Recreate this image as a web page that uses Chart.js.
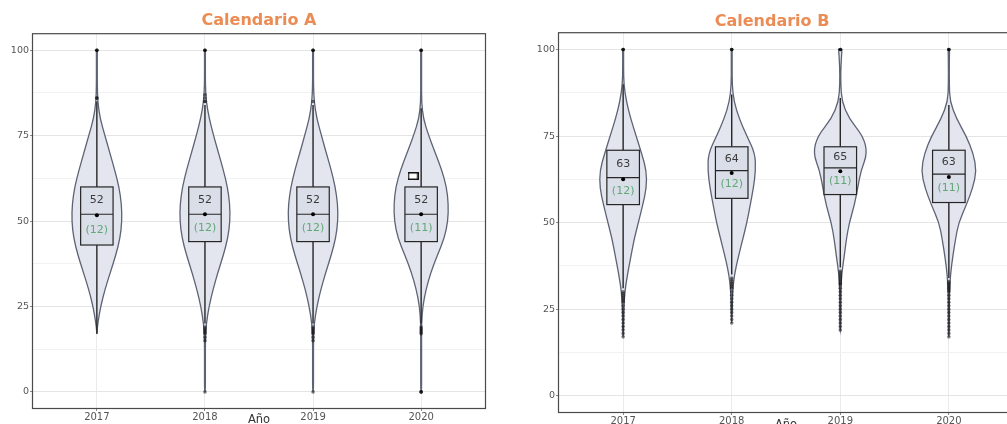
<!DOCTYPE html>
<html>
<head>
<meta charset="utf-8">
<script src="https://cdn.jsdelivr.net/npm/chart.js@4.4.1/dist/chart.umd.min.js"></script>
<style>
  body { margin: 0; background: #fff; }
  #wrap { position: relative; width: 1007px; height: 424px; overflow: hidden; }
  canvas { position: absolute; top: 0; }
</style>
</head>
<body>
<div id="wrap">
  <canvas id="calendar-a" width="500" height="424" style="left:0"></canvas>
  <canvas id="calendar-b" width="518" height="424" style="left:500px"></canvas>
</div>
<script>
// data
const years = ["2017", "2018", "2019", "2020"];
const yTicks = [0, 12.5, 25, 37.5, 50, 62.5, 75, 87.5, 100];
const levels = [100, 95, 90, 85, 80, 75, 70, 65, 60, 55, 50, 45, 40, 35, 30, 25, 20, 15, 10, 5, 0];

// Calendario A
const violinA = [
  [.004, .004, .004, .008, .03, .075, .12, .165, .205, .228, .232, .215, .175, .125, .075, .035, .008, 0, 0, 0, 0],
  [.004, .004, .004, .012, .04, .08, .125, .17, .208, .23, .232, .212, .17, .12, .075, .038, .012, .004, .004, .004, .004],
  [.004, .004, .004, .01, .035, .078, .122, .168, .205, .228, .23, .21, .168, .118, .072, .036, .01, .004, .004, .004, .004],
  [.004, .004, .004, .004, .02, .07, .13, .19, .235, .252, .248, .215, .15, .09, .045, .015, .004, .004, .004, .004, .004],
];
const violinMinA = [17, 0, 0, 0];
const violinMaxA = [100, 100, 100, 100];
const q1A = [43, 44, 44, 44];
const medianA = [52, 52, 52, 52];
const q3A = [60, 60, 60, 60];
const whiskerLowA = [17, 20, 20, 20];
const whiskerHighA = [85, 84, 84, 83];
const meanA = [51.7, 52, 52, 52];
const medianTextA = ["52", "52", "52", "52"];
const countTextA = ["(12)", "(12)", "(12)", "(11)"];
const outliersA = [
  [100, 100, 100, 86, 86],
  [100, 100, 100, 87, 86, 85, 85, 19, 18.5, 18, 17.5, 17, 16, 15, 0],
  [100, 100, 100, 85, 19, 18.5, 18, 17.5, 17, 16, 15, 0],
  [100, 100, 100, 19, 18.5, 18, 17.5, 17, 0, 0, 0],
];
const markerValueA = 63.2;

// Calendario B
const violinB = [
  [.004, .004, .006, .03, .07, .12, .17, .215, .215, .18, .14, .1, .07, .04, .015, .006, .004, 0, 0, 0, 0],
  [.004, .004, .004, .02, .07, .14, .215, .22, .2, .17, .14, .1, .06, .025, .008, .005, 0, 0, 0, 0, 0],
  [.015, .005, .004, .015, .08, .21, .25, .19, .16, .13, .083, .055, .035, .012, .005, .004, .004, 0, 0, 0, 0],
  [.006, .004, .004, .01, .07, .16, .225, .255, .22, .16, .09, .06, .035, .015, .006, .004, .004, 0, 0, 0, 0],
];
const violinMinB = [17, 21, 19, 17];
const violinMaxB = [100, 100, 100, 100];
const q1B = [55.2, 57, 58.1, 55.8];
const medianB = [63, 65, 65.8, 64];
const q3B = [70.9, 71.9, 71.9, 70.9];
const whiskerLowB = [31, 35, 37, 34];
const whiskerHighB = [90, 87, 86, 84];
const meanB = [62.5, 64.3, 64.8, 63.2];
const medianTextB = ["63", "64", "65", "63"];
const countTextB = ["(12)", "(12)", "(11)", "(11)"];
const outliersB = [
  [100, 100, 100, 30, 29.5, 29, 28.5, 28, 27.5, 27, 26, 25, 24, 23, 22, 21, 20, 19, 18, 17],
  [100, 100, 100, 34, 33.5, 33, 32.5, 32, 31.5, 31, 30, 29, 28, 27, 26, 25, 24, 23, 22, 21],
  [100, 100, 100, 36, 35.5, 35, 34.5, 34, 33.5, 33, 32.5, 32, 31, 30, 29, 28, 27, 26, 25, 24, 23, 22, 21, 20, 19],
  [100, 100, 100, 33, 32.5, 32, 31.5, 31, 30.5, 30, 29, 28, 27, 26, 25, 24, 23, 22, 21, 20, 19, 18, 17],
];

const BOX_HALF = 0.15;

// smooth closed path through midpoints
const smoothPath = (ctx, pts) => {
  ctx.beginPath();
  ctx.moveTo(pts[0][0], pts[0][1]);
  for (let i = 1; i < pts.length - 1; i++) {
    const mx = (pts[i][0] + pts[i + 1][0]) / 2;
    const my = (pts[i][1] + pts[i + 1][1]) / 2;
    ctx.quadraticCurveTo(pts[i][0], pts[i][1], mx, my);
  }
  const last = pts[pts.length - 1];
  ctx.lineTo(last[0], last[1]);
  ctx.closePath();
};

const violinPlugin = {
  id: "violins",
  beforeDatasetsDraw(chart, args, o) {
    const { ctx, scales: { x, y } } = chart;
    ctx.save();
    o.widths.forEach((w, i) => {
      const lo = o.min[i], hi = o.max[i];
      const side = [];
      const wTop = levels.indexOf(hi) >= 0 ? w[levels.indexOf(hi)] : 0;
      const wBot = levels.indexOf(lo) >= 0 ? w[levels.indexOf(lo)] : 0;
      side.push([hi, wTop]);
      levels.forEach((lv, k) => { if (lv < hi && lv > lo) side.push([lv, w[k]]); });
      side.push([lo, wBot]);
      const right = side.map(([v, hw]) => [x.getPixelForValue(i + hw), y.getPixelForValue(v)]);
      const left = side.slice().reverse().map(([v, hw]) => [x.getPixelForValue(i - hw), y.getPixelForValue(v)]);
      smoothPath(ctx, right.concat(left));
      ctx.fillStyle = "#e3e6ef";
      ctx.fill();
      ctx.strokeStyle = "#5d6374";
      ctx.lineWidth = 1.3;
      ctx.stroke();
    });

    // whiskers and boxes
    o.q1.forEach((q1, i) => {
      const cx = x.getPixelForValue(i);
      ctx.strokeStyle = "#262626";
      ctx.lineWidth = 1.4;
      ctx.beginPath();
      ctx.moveTo(cx, y.getPixelForValue(o.q3[i]));
      ctx.lineTo(cx, y.getPixelForValue(o.high[i]));
      ctx.moveTo(cx, y.getPixelForValue(q1));
      ctx.lineTo(cx, y.getPixelForValue(o.low[i]));
      ctx.stroke();

      const x0 = x.getPixelForValue(i - BOX_HALF);
      const x1 = x.getPixelForValue(i + BOX_HALF);
      const yTop = y.getPixelForValue(o.q3[i]);
      const yBot = y.getPixelForValue(q1);
      ctx.fillStyle = "#dadee8";
      ctx.fillRect(x0, yTop, x1 - x0, yBot - yTop);
      ctx.lineWidth = 1.2;
      ctx.strokeStyle = "#262626";
      ctx.strokeRect(x0, yTop, x1 - x0, yBot - yTop);
      const ym = y.getPixelForValue(o.median[i]);
      ctx.beginPath();
      ctx.moveTo(x0, ym);
      ctx.lineTo(x1, ym);
      ctx.stroke();
    });
    ctx.restore();
  },
  afterDatasetsDraw(chart, args, o) {
    const { ctx, chartArea, scales: { x, y } } = chart;
    ctx.save();
    ctx.textAlign = "center";
    ctx.textBaseline = "middle";
    ctx.font = "11px 'DejaVu Sans'";
    o.q1.forEach((q1, i) => {
      const cx = x.getPixelForValue(i);
      ctx.fillStyle = "#3a3a3a";
      ctx.fillText(o.medianText[i], cx, y.getPixelForValue((o.median[i] + o.q3[i]) / 2));
      ctx.fillStyle = "#62a877";
      ctx.fillText(o.countText[i], cx, y.getPixelForValue((q1 + o.median[i]) / 2));
    });
    // panel border
    ctx.strokeStyle = "#4a4a4a";
    ctx.lineWidth = 1.2;
    ctx.strokeRect(chartArea.left + 0.5, chartArea.top + 0.5,
      chartArea.right - chartArea.left - 1, chartArea.bottom - chartArea.top - 1);
    ctx.restore();
  },
};

// white rectangle key used in panel A
const rectMarker = document.createElement("canvas");
rectMarker.width = 11;
rectMarker.height = 8;
(() => {
  const c = rectMarker.getContext("2d");
  c.fillStyle = "#fff";
  c.fillRect(0, 0, 11, 8);
  c.strokeStyle = "#111";
  c.lineWidth = 1.5;
  c.strokeRect(0.75, 0.75, 9.5, 6.5);
})();

const setupCalendarChart = (id, title, s, layout) => {
  try {
    const outlierPoints = [];
    s.outliers.forEach((list, i) => list.forEach((v) => outlierPoints.push({ x: i, y: v })));
    const datasets = [
      {
        label: "outliers",
        data: outlierPoints,
        pointRadius: 1.8,
        pointBackgroundColor: "rgba(0,0,0,0.5)",
        pointBorderWidth: 0,
      },
      {
        label: "mean",
        data: s.mean.map((v, i) => ({ x: i, y: v })),
        pointRadius: 2,
        pointBackgroundColor: "#000",
        pointBorderWidth: 0,
      },
    ];
    if (s.marker !== undefined) {
      datasets.push({
        label: "marker",
        data: [{ x: 3 - 0.075, y: s.marker }],
        pointStyle: rectMarker,
      });
    }

    const config = {
      type: "scatter",
      data: { datasets },
      options: {
        responsive: false,
        animation: false,
        events: [],
        layout: { padding: { left: layout.padLeft, right: layout.padRight, top: 0, bottom: 0 } },
        plugins: {
          legend: { display: false },
          tooltip: { enabled: false },
          title: {
            display: true,
            fullSize: layout.titleFull,
            text: title,
            color: "#eb8c55",
            font: { family: "'DejaVu Sans'", size: 16, weight: "bold" },
            padding: { top: layout.titleTop, bottom: layout.titleBottom },
          },
          violins: {
            widths: s.widths, min: s.min, max: s.max,
            q1: s.q1, median: s.median, q3: s.q3, low: s.low, high: s.high,
            medianText: s.medianText, countText: s.countText,
          },
        },
        scales: {
          x: {
            type: "linear",
            min: -0.6,
            max: 3.6,
            afterBuildTicks: (scale) => { scale.ticks = years.map((_, i) => ({ value: i })); },
            afterFit: (scale) => { scale.height = layout.xHeight; },
            border: { display: false },
            grid: { color: "#eaeaea", tickLength: 2, tickColor: "#888" },
            ticks: {
              padding: 0,
              color: "#555",
              font: { family: "'DejaVu Sans'", size: 10 },
              callback: (v) => years[v],
            },
            title: {
              display: true,
              text: "Año",
              color: "#333",
              font: { family: "'DejaVu Sans'", size: 11.5 },
              padding: { top: 0, bottom: layout.xTitlePad },
            },
          },
          y: {
            min: -5,
            max: 105,
            afterBuildTicks: (scale) => { scale.ticks = yTicks.map((v) => ({ value: v })); },
            afterFit: (scale) => { scale.width = 32; },
            border: { display: false },
            grid: {
              color: (c) => (c.tick && c.tick.value % 25 === 0 ? "#e4e4e4" : "#f2f2f2"),
              tickLength: 2,
              tickColor: (c) => (c.tick && c.tick.value % 25 === 0 ? "#888" : "rgba(0,0,0,0)"),
            },
            ticks: {
              padding: 1,
              color: "#555",
              font: { family: "'DejaVu Sans'", size: 9.5 },
              callback: (v) => (v % 25 === 0 ? v : ""),
            },
          },
        },
      },
      plugins: [violinPlugin],
    };

    return new Chart(document.getElementById(id), config);
  } catch (e) {
    console.error(e);
  }
};

setupCalendarChart("calendar-a", "Calendario A", {
  widths: violinA, min: violinMinA, max: violinMaxA,
  q1: q1A, median: medianA, q3: q3A, low: whiskerLowA, high: whiskerHighA,
  mean: meanA, medianText: medianTextA, countText: countTextA,
  outliers: outliersA, marker: markerValueA,
}, { padLeft: 0, padRight: 14, titleFull: false, titleTop: 11, titleBottom: 3, xHeight: 15, xTitlePad: -2.8 });

setupCalendarChart("calendar-b", "Calendario B", {
  widths: violinB, min: violinMinB, max: violinMaxB,
  q1: q1B, median: medianB, q3: q3B, low: whiskerLowB, high: whiskerHighB,
  mean: meanB, medianText: medianTextB, countText: countTextB,
  outliers: outliersB,
}, { padLeft: 26, padRight: 0, titleFull: true, titleTop: 12, titleBottom: 1, xHeight: 11, xTitlePad: -7.8 });
</script>
</body>
</html>
